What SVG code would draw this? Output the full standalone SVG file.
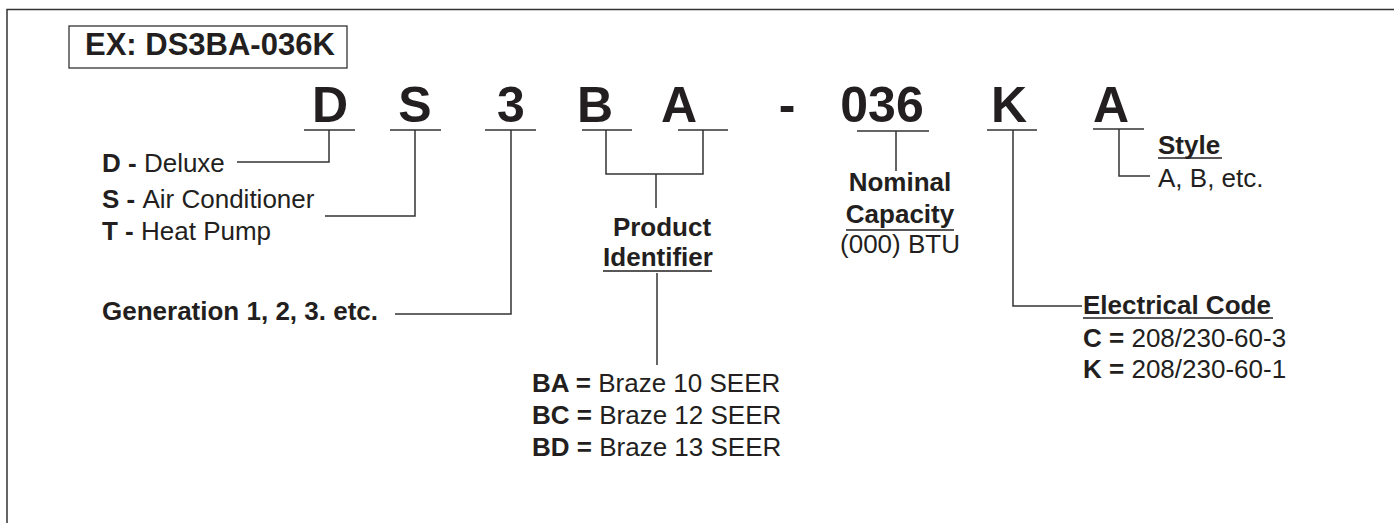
<svg xmlns="http://www.w3.org/2000/svg" width="1394" height="523" viewBox="0 0 1394 523">
<style>
text{font-family:"Liberation Sans",Arial,sans-serif;fill:#231f20}
.big{font-size:50px;font-weight:bold;text-anchor:middle}
.lbl{font-size:26px}
.b{font-weight:bold}
.mid{text-anchor:middle}
.ln{fill:none;stroke:#333;stroke-width:1.5}
.ul{fill:none;stroke:#231f20;stroke-width:1.5}
</style>
<rect width="1394" height="523" fill="#fff"/>
<path class="ln" d="M7,523 V9.5 H1394" stroke-width="2"/>
<g id="example">
<rect x="69" y="26" width="278" height="42" fill="none" stroke="#333" stroke-width="1.3"/>
<text x="85" y="55" font-size="31" font-weight="bold">EX: DS3BA-036K</text>
</g>
<g id="code">
<text class="big" x="330" y="122">D</text>
<text class="big" x="415" y="122">S</text>
<text class="big" x="511" y="122">3</text>
<text class="big" x="595" y="122">B</text>
<text class="big" x="679" y="122">A</text>
<text class="big" x="787" y="122">-</text>
<text class="big" x="882" y="122">036</text>
<text class="big" x="1009" y="122">K</text>
<text class="big" x="1111" y="122">A</text>
<path class="ln" d="M304,130 H355 M390,130 H441 M485,130 H536 M582,130 H632 M678,130 H728 M857,131 H929 M987,130 H1037 M1093,129 H1144"/>
</g>
<g id="connectors">
<path class="ln" d="M329,130 V162 H237"/>
<path class="ln" d="M415,130 V216 H325"/>
<path class="ln" d="M511,130 V314 H395"/>
<path class="ln" d="M606,130 V174 H703 V130 M656,174 V208"/>
<path class="ln" d="M896,131 V171"/>
<path class="ln" d="M657,273 V365"/>
<path class="ln" d="M1013,130 V306 H1082"/>
<path class="ln" d="M1119,129 V176 H1150"/>
</g>
<g id="type">
<text class="lbl" x="102" y="172"><tspan class="b">D - </tspan>Deluxe</text>
<text class="lbl" x="102" y="208"><tspan class="b">S - </tspan>Air Conditioner</text>
<text class="lbl" x="102" y="240"><tspan class="b">T - </tspan>Heat Pump</text>
</g>
<g id="generation">
<text class="lbl b" x="102" y="320">Generation 1, 2, 3. etc.</text>
</g>
<g id="product">
<text class="lbl b mid" x="662" y="236">Product</text>
<text class="lbl b mid" x="658" y="266">Identifier</text>
<path class="ul" d="M603,271 H712"/>
<text class="lbl" x="532" y="392"><tspan class="b">BA = </tspan>Braze 10 SEER</text>
<text class="lbl" x="532" y="424"><tspan class="b">BC = </tspan>Braze 12 SEER</text>
<text class="lbl" x="532" y="456"><tspan class="b">BD = </tspan>Braze 13 SEER</text>
</g>
<g id="capacity">
<text class="lbl b mid" x="900" y="191">Nominal</text>
<text class="lbl b mid" x="900" y="223">Capacity</text>
<path class="ul" d="M846,230 H954"/>
<text class="lbl mid" x="900" y="253">(000) BTU</text>
</g>
<g id="electrical">
<text class="lbl b" x="1083" y="314">Electrical Code</text>
<path class="ul" d="M1083,318 H1273"/>
<text class="lbl" x="1083" y="347"><tspan class="b">C = </tspan>208/230-60-3</text>
<text class="lbl" x="1083" y="378"><tspan class="b">K = </tspan>208/230-60-1</text>
</g>
<g id="style">
<text class="lbl b" x="1158" y="154">Style</text>
<path class="ul" d="M1158,158 H1222"/>
<text class="lbl" x="1158" y="187">A, B, etc.</text>
</g>
</svg>
